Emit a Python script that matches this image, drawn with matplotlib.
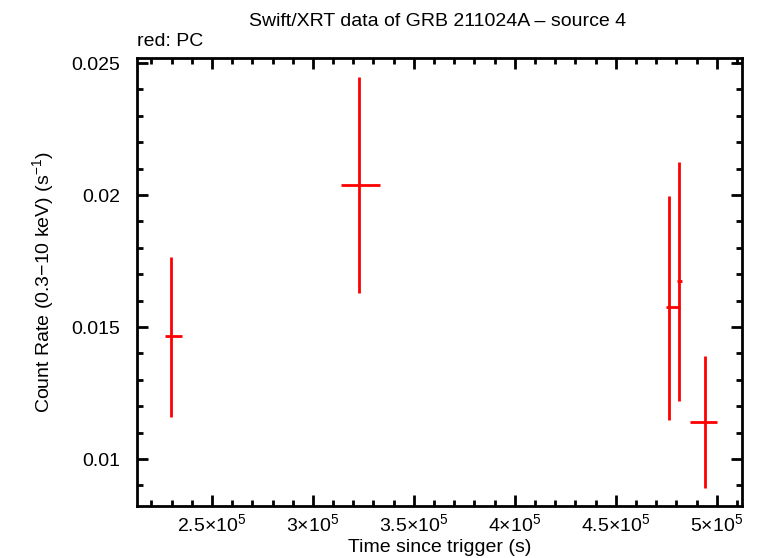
import matplotlib
matplotlib.use("Agg")
import matplotlib.pyplot as plt
from matplotlib.ticker import MultipleLocator, FuncFormatter

plt.rcParams['font.family'] = ['Liberation Sans', 'DejaVu Sans']
plt.rcParams['mathtext.fontset'] = 'custom'
plt.rcParams['mathtext.rm'] = 'Liberation Sans'
plt.rcParams['mathtext.it'] = 'Liberation Sans:italic'

# Data (time in s, rate in counts/s)
t = [229500, 322600, 476500, 481500, 494300]
t_lo = [226700, 313900, 474900, 480500, 486800]
t_hi = [235100, 333300, 481900, 482650, 500100]
rate = [0.01465, 0.02037, 0.01575, 0.01673, 0.01139]
rate_lo = [0.01160, 0.01630, 0.01149, 0.01221, 0.00889]
rate_hi = [0.01765, 0.02446, 0.01995, 0.02124, 0.01390]

xerr = [[a - b for a, b in zip(t, t_lo)], [b - a for a, b in zip(t, t_hi)]]
yerr = [[a - b for a, b in zip(rate, rate_lo)], [b - a for a, b in zip(rate, rate_hi)]]

FS = 14

fig = plt.figure(figsize=(7.58, 5.58), dpi=100)
ax = fig.add_axes([137/758, 1 - 506/558, (742-137)/758, (506-58)/558])

ax.errorbar(t, rate, xerr=xerr, yerr=yerr, fmt='none', ecolor='#ff0000',
            elinewidth=2, capsize=0)

ax.set_xlim(212875, 512500)
ax.set_ylim(0.00822, 0.02519)

ax.xaxis.set_major_locator(MultipleLocator(50000))
ax.xaxis.set_minor_locator(MultipleLocator(10000))
ax.yaxis.set_major_locator(MultipleLocator(0.005))
ax.yaxis.set_minor_locator(MultipleLocator(0.001))

def xfmt(v, pos):
    m = v / 1e5
    s = ('%g' % m)
    return r'$%s{\times}10^{5}$' % s
ax.xaxis.set_major_formatter(FuncFormatter(xfmt))
ax.yaxis.set_major_formatter(FuncFormatter(lambda v, p: '%g' % round(v, 4)))

ax.tick_params(which='both', direction='in', top=True, right=True, width=2,
               labelsize=FS)
ax.tick_params(axis='y', pad=12)
ax.tick_params(axis='x', pad=5)
ax.tick_params(which='major', length=8)
ax.tick_params(which='minor', length=4)
for s in ax.spines.values():
    s.set_linewidth(2)

ax.set_xlabel('Time since trigger (s)', fontsize=FS, labelpad=3)
ax.set_ylabel('Count Rate (0.3$-$10 keV) (s$^{-1}$)', fontsize=FS, labelpad=11)
fig.text(438/758, 1 - 21/558, 'Swift/XRT data of GRB 211024A \u2013 source 4',
         ha='center', va='center', fontsize=FS)
fig.text(137/758, 1 - 42/558, 'red: PC', ha='left', va='center', fontsize=FS)

fig.savefig('out.png', dpi=100)
